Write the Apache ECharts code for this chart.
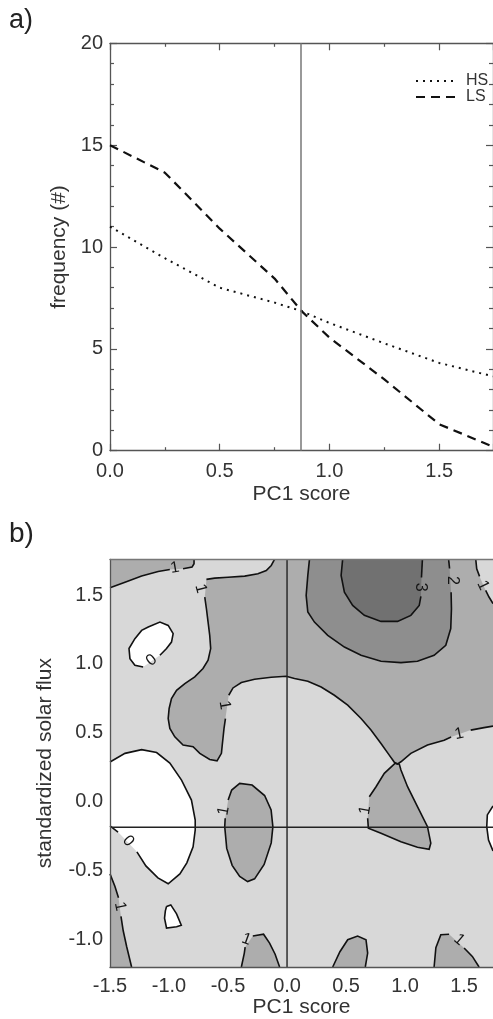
<!DOCTYPE html>
<html><head><meta charset="utf-8">
<script src="https://cdn.jsdelivr.net/npm/echarts@6/dist/echarts.min.js"></script>
<style>html,body{margin:0;padding:0;background:#fff;}#chart{width:493px;height:1019px;}</style>
</head><body><div id="chart"></div>
<script>
// ---------- Panel a) ----------
const pcScoreA = [0, 0.25, 0.5, 0.75, 0.873, 1.0, 1.25, 1.5, 1.745];
const freqHS   = [11.0, 9.45, 8.0, 7.27, 6.85, 6.27, 5.27, 4.31, 3.65];
const freqLS   = [15.0, 13.65, 10.9, 8.45, 6.85, 5.55, 3.5, 1.3, 0.2];
const thresholdA = 0.873;
const xTicksA = [0, 0.5, 1.0, 1.5];
const xRangeA = [0, 1.745];
const yRangeA = [0, 20];

// ---------- Panel b) ----------
const xTicksB = [-1.5, -1.0, -0.5, 0.0, 0.5, 1.0, 1.5];
const yTicksB = [-1.0, -0.5, 0.0, 0.5, 1.0, 1.5];
const xRangeB = [-1.5, 1.745];
const yRangeB = [-1.2, 1.76];
const refXB = 0.0;
const refYB = -0.185;

// contour lines (data units), split at label gaps
const c1a = [[-1.5,1.554],[-1.373,1.594],[-1.232,1.638],[-1.092,1.672],[-0.993,1.686]];
const c1b = [[-0.881,1.691],[-0.805,1.703],[-0.788,1.728],[-0.788,1.76]];
const c2a = [[-0.106,1.76],[-0.134,1.715],[-0.176,1.679],[-0.247,1.655],[-0.359,1.638],[-0.5,1.630],[-0.613,1.623],[-0.683,1.614]];
const c2b = [[-0.697,1.486],[-0.683,1.401],[-0.669,1.304],[-0.655,1.208],[-0.647,1.112],[-0.669,1.027],[-0.712,0.967],[-0.782,0.906],[-0.866,0.858],[-0.936,0.809],[-0.979,0.749],[-0.999,0.677],[-1.007,0.604],[-0.993,0.532],[-0.951,0.471],[-0.881,0.411],[-0.796,0.399],[-0.739,0.351],[-0.655,0.307],[-0.593,0.297],[-0.556,0.351],[-0.549,0.411],[-0.543,0.459],[-0.534,0.532],[-0.522,0.604]];
const c2c = [[-0.494,0.773],[-0.458,0.826],[-0.387,0.865],[-0.275,0.889],[-0.134,0.904],[-0.007,0.911],[0.063,0.894],[0.176,0.875],[0.289,0.833],[0.401,0.773],[0.514,0.701],[0.627,0.604],[0.711,0.520],[0.796,0.423],[0.866,0.338],[0.908,0.288],[0.934,0.273],[0.965,0.290],[1.049,0.351],[1.190,0.411],[1.331,0.447],[1.39,0.47]];
const c2d = [[1.556,0.520],[1.669,0.538],[1.745,0.549]];
const c5a = [[1.745,1.438],[1.711,1.486],[1.683,1.534]];
const c5b = [[1.631,1.636],[1.607,1.691],[1.599,1.76]];
const c3a = [[0.190,1.76],[0.176,1.643],[0.162,1.498],[0.176,1.377],[0.232,1.304],[0.345,1.208],[0.486,1.123],[0.627,1.063],[0.796,1.020],[0.965,1.010],[1.105,1.020],[1.246,1.063],[1.345,1.136],[1.387,1.257],[1.393,1.401],[1.390,1.520]];
const c3b = [[1.377,1.693],[1.369,1.76]];
const c4a = [[0.471,1.76],[0.458,1.643],[0.486,1.522],[0.556,1.425],[0.655,1.353],[0.796,1.309],[0.936,1.309],[1.049,1.353],[1.120,1.425],[1.134,1.491]];
const c4b = [[1.139,1.628],[1.147,1.76]];
const c6  = [[-1.219,0.978],[-1.289,0.991],[-1.331,1.039],[-1.339,1.112],[-1.289,1.184],[-1.232,1.244],[-1.176,1.268],[-1.077,1.304],[-1.007,1.280],[-0.965,1.220],[-0.979,1.159],[-1.021,1.112],[-1.077,1.063]];
const c7a = [[-1.5,0.288],[-1.373,0.351],[-1.232,0.378],[-1.105,0.357],[-0.993,0.280],[-0.894,0.157],[-0.810,0.012],[-0.778,-0.133],[-0.778,-0.205],[-0.796,-0.328],[-0.849,-0.444],[-0.908,-0.524],[-1.007,-0.596],[-1.094,-0.553],[-1.196,-0.466],[-1.272,-0.364]];
const c7b = [[-1.432,-0.220],[-1.5,-0.176]];
const c8  = [[-0.499,0.012],[-0.469,0.085],[-0.401,0.133],[-0.296,0.121],[-0.190,0.045],[-0.135,-0.060],[-0.120,-0.181],[-0.134,-0.299],[-0.194,-0.455],[-0.275,-0.560],[-0.334,-0.580],[-0.401,-0.543],[-0.465,-0.462],[-0.511,-0.339],[-0.528,-0.181],[-0.524,-0.120]];
const c9  = [[-1.021,-0.761],[-0.985,-0.749],[-0.936,-0.814],[-0.896,-0.897],[-0.936,-0.908],[-1.021,-0.917],[-1.038,-0.846],[-1.031,-0.792],[-1.021,-0.761]];
const c10a = [[-1.5,-0.524],[-1.458,-0.616],[-1.428,-0.698]];
const c10b = [[-1.407,-0.833],[-1.388,-0.937],[-1.359,-1.051],[-1.317,-1.2]];
const c11a = [[-0.387,-1.2],[-0.362,-1.099],[-0.355,-1.055]];
const c11b = [[-0.29,-0.975],[-0.199,-0.962],[-0.148,-1.026],[-0.101,-1.107],[-0.063,-1.2]];
const c12 = [[0.387,-1.2],[0.448,-1.089],[0.514,-1.002],[0.598,-0.975],[0.669,-1.002],[0.683,-1.099],[0.663,-1.2]];
const c13a = [[1.246,-1.2],[1.261,-1.060],[1.303,-0.966],[1.373,-0.962]];
const c13b = [[1.5,-1.062],[1.570,-1.123],[1.627,-1.2]];
const c14 = [[1.745,-0.031],[1.697,-0.096],[1.692,-0.181],[1.707,-0.278],[1.745,-0.357]];
const cTri = [[0.683,-0.120],[0.689,-0.193],[0.796,-0.229],[0.965,-0.290],[1.105,-0.330],[1.204,-0.345],[1.218,-0.301],[1.190,-0.181],[1.105,-0.036],[1.021,0.109],[0.965,0.230],[0.951,0.273],[0.917,0.280],[0.824,0.206],[0.754,0.109],[0.697,0.036]];

// contour labels: [x, y, text, rotation in degrees]
const contourLabels = [
  [-0.951, 1.697, '1', 10],
  [-0.731, 1.547, '1', -75],
  [-0.528, 0.701, '1', -80],
  [1.458, 0.491, '1', 12],
  [1.660, 1.570, '1', -65],
  [1.401, 1.607, '2', -90],
  [1.134, 1.558, '3', -90],
  [-1.148, 1.027, '0', 40],
  [-1.345, -0.285, '0', -50],
  [-0.537, -0.067, '1', 80],
  [0.663, -0.060, '1', 80],
  [-1.415, -0.761, '1', -78],
  [-0.345, -1.0, '1', -20],
  [1.458, -1.002, '1', -40]
];

const levelColors = { '-1': '#ffffff', '1': '#adadad', '2': '#8e8e8e', '3': '#717171' };
const regionsB = [
  { level: 1, pts: [[-1.5, 1.76]].concat(c1a, c1b) },
  { level: 1, pts: [].concat(c2a, c2b, c2c, c2d, c5a, c5b) },
  { level: 1, pts: cTri },
  { level: 1, pts: c8 },
  { level: 1, pts: c10a.concat(c10b, [[-1.5, -1.2]]) },
  { level: 1, pts: c11a.concat(c11b) },
  { level: 1, pts: c12 },
  { level: 1, pts: c13a.concat(c13b) },
  { level: 2, pts: c3a.concat(c3b) },
  { level: 3, pts: c4a.concat(c4b) },
  { level: -1, pts: c6 },
  { level: -1, pts: c7a.concat(c7b) },
  { level: -1, pts: c9 },
  { level: -1, pts: c14 }
];
const contourSegs = [c1a, c1b, c2a, c2b, c2c, c2d, c5a, c5b, c3a, c3b, c4a, c4b, c6, c7a, c7b, c8, c9, c10a, c10b, c11a, c11b, c12, c13a, c13b, c14, cTri];

const FONT = '"Liberation Sans", Arial, Helvetica, sans-serif';
const TXT = '#333';
const FRAME = '#555';
const TICKFS = 20;
const NAMEFS = 21;

const chart = echarts.init(document.getElementById('chart'), null, { renderer: 'canvas' });
const fmt1 = v => Number(v).toFixed(1);

const tickStyle = { color: FRAME, width: 1.2 };
const option = {
  animation: false,
  backgroundColor: '#fff',
  textStyle: { fontFamily: FONT },
  title: [
    { text: 'a)', left: 9, top: 7, padding: 0, textStyle: { fontSize: 27, fontWeight: 'normal', color: '#222', fontFamily: FONT } },
    { text: 'b)', left: 9, top: 520, padding: 0, textStyle: { fontSize: 28, fontWeight: 'normal', color: '#222', fontFamily: FONT } }
  ],
  legend: {
    left: 410, top: 68, orient: 'vertical', itemWidth: 42, itemHeight: 14, itemGap: 0,
    data: ['HS', 'LS'],
    itemStyle: { color: 'rgba(0,0,0,0)', borderColor: 'rgba(0,0,0,0)', borderWidth: 0 },
    textStyle: { fontSize: 16, lineHeight: 14, color: TXT, fontFamily: FONT, padding: [0, 0, 0, 3] },
    selectedMode: false
  },
  grid: [
    { left: 110, top: 43.3, right: -1, height: 407.4, containLabel: false },
    { left: 110, top: 559.3, right: -1, height: 408.5, show: true, backgroundColor: '#d8d8d8', borderWidth: 0, containLabel: false }
  ],
  xAxis: [
    { gridIndex: 0, type: 'value', position: 'bottom', min: xRangeA[0], max: xRangeA[1], interval: 0.5,
      axisLine: { onZero: false, lineStyle: { color: FRAME, width: 1.3 } },
      axisTick: { inside: true, length: 7, lineStyle: tickStyle },
      minorTick: { show: true, splitNumber: 2, length: 3.5, lineStyle: tickStyle },
      splitLine: { show: false }, minorSplitLine: { show: false },
      axisLabel: { customValues: xTicksA, formatter: fmt1, fontSize: TICKFS, color: TXT, margin: 11, fontFamily: FONT },
      name: 'PC1 score', nameLocation: 'middle', nameGap: 33,
      nameTextStyle: { fontSize: NAMEFS, color: TXT, fontFamily: FONT } },
    { gridIndex: 0, type: 'value', position: 'top', min: xRangeA[0], max: xRangeA[1], interval: 0.5,
      axisLine: { onZero: false, lineStyle: { color: FRAME, width: 1.3 } },
      axisTick: { inside: true, length: 7, lineStyle: tickStyle },
      minorTick: { show: true, splitNumber: 2, length: 3.5, lineStyle: tickStyle },
      splitLine: { show: false }, axisLabel: { show: false } },
    { gridIndex: 1, type: 'value', position: 'bottom', min: xRangeB[0], max: xRangeB[1], interval: 0.5, z: 10,
      axisLine: { onZero: false, lineStyle: { color: FRAME, width: 1.3 } },
      axisTick: { show: false }, splitLine: { show: false },
      axisLabel: { customValues: xTicksB, formatter: fmt1, fontSize: TICKFS, color: TXT, margin: 9, fontFamily: FONT },
      name: 'PC1 score', nameLocation: 'middle', nameGap: 30,
      nameTextStyle: { fontSize: NAMEFS, color: TXT, fontFamily: FONT } },
    { gridIndex: 1, type: 'value', position: 'top', min: xRangeB[0], max: xRangeB[1], interval: 0.5, z: 10,
      axisLine: { onZero: false, lineStyle: { color: '#777', width: 1.3 } },
      axisTick: { show: false }, splitLine: { show: false }, axisLabel: { show: false } }
  ],
  yAxis: [
    { gridIndex: 0, type: 'value', position: 'left', min: yRangeA[0], max: yRangeA[1], interval: 5,
      axisLine: { show: true, onZero: false, lineStyle: { color: FRAME, width: 1.3 } },
      axisTick: { show: true, inside: true, length: 7, lineStyle: tickStyle },
      minorTick: { show: true, splitNumber: 5, length: 4, lineStyle: tickStyle },
      splitLine: { show: false },
      axisLabel: { fontSize: TICKFS, color: TXT, margin: 7, fontFamily: FONT },
      name: 'frequency (#)', nameLocation: 'middle', nameGap: 39, nameRotate: 90,
      nameTextStyle: { fontSize: NAMEFS, color: TXT, fontFamily: FONT } },
    { gridIndex: 0, type: 'value', position: 'right', min: yRangeA[0], max: yRangeA[1], interval: 5,
      axisLine: { show: true, onZero: false, lineStyle: { color: FRAME, width: 1.3 } },
      axisTick: { show: true, inside: true, length: 7, lineStyle: tickStyle },
      minorTick: { show: true, splitNumber: 5, length: 4, lineStyle: tickStyle },
      splitLine: { show: false }, axisLabel: { show: false } },
    { gridIndex: 1, type: 'value', position: 'left', min: yRangeB[0], max: yRangeB[1], z: 10,
      axisLine: { show: true, onZero: false, lineStyle: { color: FRAME, width: 1.3 } },
      axisTick: { show: false }, splitLine: { show: false },
      axisLabel: { customValues: yTicksB, formatter: fmt1, fontSize: TICKFS, color: TXT, margin: 7, fontFamily: FONT },
      name: 'standardized solar flux', nameLocation: 'middle', nameGap: 54, nameRotate: 90,
      nameTextStyle: { fontSize: NAMEFS, color: TXT, fontFamily: FONT } }
  ],
  series: [
    { name: 'HS', type: 'line', xAxisIndex: 0, yAxisIndex: 0, symbol: 'none', silent: true,
      data: pcScoreA.map((x, i) => [x, freqHS[i]]),
      lineStyle: { color: '#111', width: 2, type: [2, 5] },
      itemStyle: { color: '#111' },
      markLine: { silent: true, symbol: 'none', label: { show: false },
        lineStyle: { color: '#777', width: 1.5, type: 'solid' }, data: [{ xAxis: thresholdA }] } },
    { name: 'LS', type: 'line', xAxisIndex: 0, yAxisIndex: 0, symbol: 'none', silent: true,
      data: pcScoreA.map((x, i) => [x, freqLS[i]]),
      lineStyle: { color: '#111', width: 2.2, type: [9, 6] },
      itemStyle: { color: '#111' } },
    { type: 'custom', xAxisIndex: 2, yAxisIndex: 2, silent: true, z: 2,
      data: regionsB.map(r => [r.pts[0][0], r.pts[0][1]]),
      renderItem: (params, api) => {
        const r = regionsB[params.dataIndex];
        return { type: 'polygon', shape: { points: r.pts.map(p => api.coord(p)) },
          style: { fill: levelColors[String(r.level)], stroke: null } };
      } },
    { type: 'custom', xAxisIndex: 2, yAxisIndex: 2, silent: true, z: 3,
      data: contourSegs.map(s => [s[0][0], s[0][1]]),
      renderItem: (params, api) => {
        const s = contourSegs[params.dataIndex];
        return { type: 'polyline', shape: { points: s.map(p => api.coord(p)) },
          style: { fill: null, stroke: '#111', lineWidth: 1.6 } };
      } },
    { type: 'custom', xAxisIndex: 2, yAxisIndex: 2, silent: true, z: 4,
      data: contourLabels.map(l => [l[0], l[1]]),
      renderItem: (params, api) => {
        const l = contourLabels[params.dataIndex];
        const p = api.coord([l[0], l[1]]);
        return { type: 'text', x: p[0], y: p[1], rotation: l[3] * Math.PI / 180,
          style: { text: l[2], fill: '#151515', font: '16px ' + FONT, align: 'center', verticalAlign: 'middle' } };
      } },
    { type: 'custom', xAxisIndex: 2, yAxisIndex: 2, silent: true, z: 5,
      data: [[refXB, refYB]],
      renderItem: (params, api) => {
        const v1 = api.coord([refXB, yRangeB[0]]), v2 = api.coord([refXB, yRangeB[1]]);
        const h1 = api.coord([xRangeB[0], refYB]), h2 = api.coord([xRangeB[1], refYB]);
        return { type: 'group', children: [
          { type: 'line', shape: { x1: v1[0], y1: v1[1], x2: v2[0], y2: v2[1] }, style: { stroke: '#222', lineWidth: 1.4 } },
          { type: 'line', shape: { x1: h1[0], y1: h1[1], x2: h2[0], y2: h2[1] }, style: { stroke: '#222', lineWidth: 1.4 } }
        ] };
      } }
  ]
};
chart.setOption(option);
</script>
</body></html>
